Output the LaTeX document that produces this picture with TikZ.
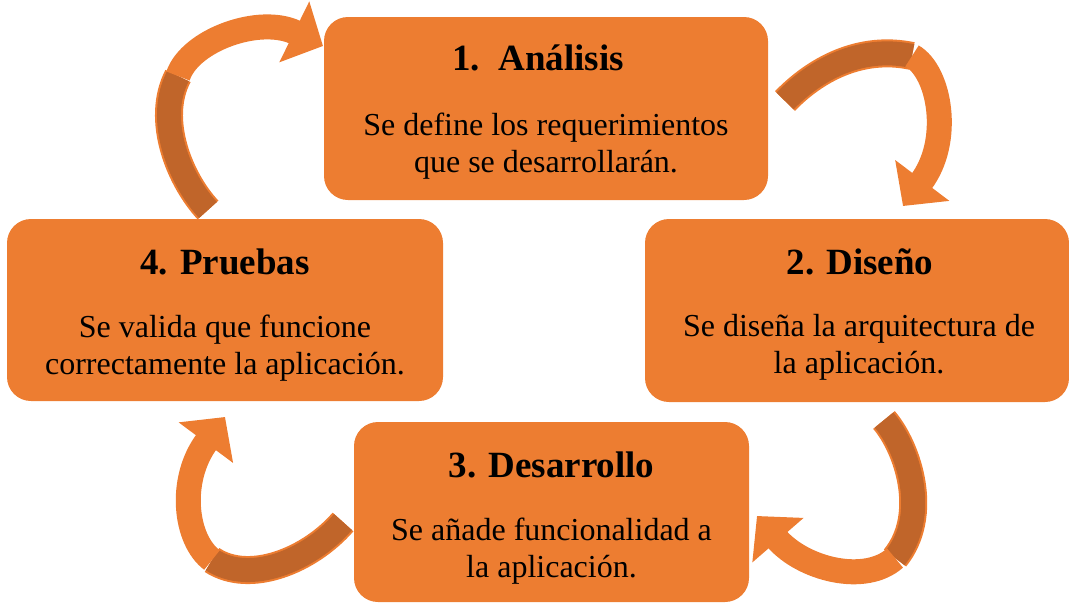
\documentclass[tikz,border=0pt]{standalone}
\usepackage{fontspec}
\setmainfont{Liberation Serif}
\usetikzlibrary{arrows.meta,calc}
\definecolor{boxorange}{HTML}{ED7D31}
\definecolor{backdark}{HTML}{C0652A}

\begin{document}
\begin{tikzpicture}[x=1pt,y=-1pt,
    stage/.style={fill=boxorange,rounded corners=24pt,inner sep=0pt},
    title/.style={anchor=base,font=\fontsize{37}{42}\selectfont\bfseries},
    body/.style={anchor=base,align=center,font=\fontsize{32}{37}\selectfont},
    ribbonback/.style={draw=boxorange,line width=2pt,double=backdark,double distance=24pt},
    ribbonhead/.style={draw=boxorange,line width=25pt,-{Triangle[length=32pt,width=66pt]}}]
    \useasboundingbox (0,0) rectangle (1069,603);

    % cycle arrows
    \coordinate (a1s) at (785,101);
    \coordinate (a1m) at (912,56);
    \coordinate (a1e) at (903,206);
    \coordinate (a2s) at (884,420);
    \coordinate (a2m) at (895,558);
    \coordinate (a2e) at (757,516);
    \coordinate (a3s) at (343,522);
    \coordinate (a3m) at (212,560);
    \coordinate (a3e) at (225,417);
    \coordinate (a4s) at (208,210);
    \coordinate (a4m) at (178,76);
    \coordinate (a4e) at (323,46);

    \draw[ribbonback] (a1s) .. controls (815,70) and (860,45) .. (a1m);
    \draw[ribbonhead] (a1m) .. controls (940,72) and (952,141) .. (a1e);
    \draw[ribbonback] (a2s) .. controls (908,448) and (930,515) .. (a2m);
    \draw[ribbonhead] (a2m) .. controls (865,585) and (803,569) .. (a2e);
    \draw[ribbonback] (a3s) .. controls (310,560) and (250,585) .. (a3m);
    \draw[ribbonhead] (a3m) .. controls (185,540) and (178,480) .. (a3e);
    \draw[ribbonback] (a4s) .. controls (180,180) and (155,120) .. (a4m);
    \draw[ribbonhead] (a4m) .. controls (190,40) and (260,15) .. (a4e);

    % stages
    \node[stage,minimum width=444pt,minimum height=183pt] (b1) at (546,108.5) {};
    \node[stage,minimum width=424pt,minimum height=183pt] (b2) at (857,310.5) {};
    \node[stage,minimum width=395pt,minimum height=180pt] (b3) at (551.5,512) {};
    \node[stage,minimum width=436pt,minimum height=182pt] (b4) at (225,310) {};

    \node[title] (t1) at ($(b1.north)+(-8,54)$) {1.\ \ Análisis};
    \node[body] (d1) at ($(b1.north)+(0,156)$) {Se define los requerimientos\\que se desarrollarán.};
    \node[title] (t2) at ($(b2.north)+(3,56)$) {2. Diseño};
    \node[body] (d2) at ($(b2.north)+(2,155)$) {Se diseña la arquitectura de\\la aplicación.};
    \node[title] (t3) at ($(b3.north)+(0,56)$) {3. Desarrollo};
    \node[body] (d3) at ($(b3.north)+(0,156)$) {Se añade funcionalidad a\\la aplicación.};
    \node[title] (t4) at ($(b4.north)+(0,56)$) {4. Pruebas};
    \node[body] (d4) at ($(b4.north)+(0,156)$) {Se valida que funcione\\correctamente la aplicación.};
\end{tikzpicture}
\end{document}
